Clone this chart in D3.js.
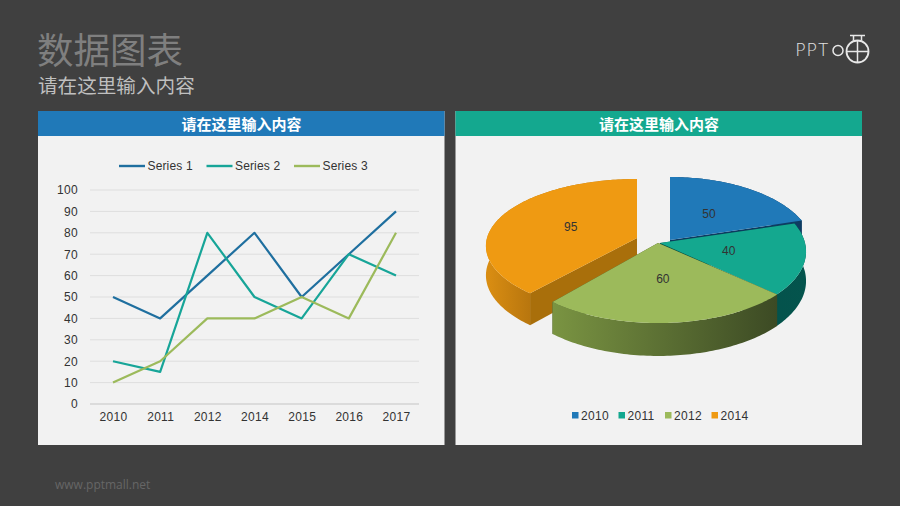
<!DOCTYPE html>
<html><head><meta charset="utf-8">
<script src="https://cdnjs.cloudflare.com/ajax/libs/d3/7.8.5/d3.min.js"></script>
<style>html,body{margin:0;padding:0;background:#404040}svg{display:block}</style></head>
<body><svg id="c" width="900" height="506"></svg>
<script>
const years=["2010","2011","2012","2014","2015","2016","2017"];
const series1=[50,40,60,80,50,70,90];
const series2=[20,15,80,50,40,70,60];
const series3=[10,20,40,40,50,40,80];
const seriesNames=["Series 1","Series 2","Series 3"];
const lineColors=["#1f6f9f","#17a598","#9cba5b"];
const yTicks=[0,10,20,30,40,50,60,70,80,90,100];
const pieLabels=["2010","2011","2012","2014"];
const pieValues=[50,40,60,95];
const pieColors=["#2079b8","#14a88f","#9cba5b","#ef9a12"];
const title="数据图表", subtitle="请在这里输入内容", header="请在这里输入内容", footer="www.pptmall.net";

const cjk="'Noto Sans CJK SC',sans-serif", latin="'Liberation Sans',Arial,sans-serif";
const svg=d3.select("#c");
const defs=svg.append("defs");
svg.append("rect").attr("width",900).attr("height",506).attr("fill","#404040");
svg.append("text").attr("x",37).attr("y",64).attr("font-family",cjk).attr("font-size",36.5).attr("fill","#7f7f7f").text(title);
svg.append("text").attr("x",38).attr("y",92.5).attr("font-family",cjk).attr("font-size",19.6).attr("fill","#bfbfbf").text(subtitle);
svg.append("text").attr("x",55).attr("y",489).attr("font-family","'Open Sans',sans-serif").attr("font-size",12).attr("fill","#666").text(footer);

// logo
const logo=svg.append("g").attr("fill","none").attr("stroke","#e8e8e8");
logo.append("text").attr("x",795.5).attr("y",56).attr("font-family","Lato,sans-serif").attr("font-weight",300).attr("font-size",17).attr("fill","#e0e0e0").attr("stroke","none").attr("letter-spacing",1.5).text("PPT");
logo.append("circle").attr("cx",838).attr("cy",50.5).attr("r",5).attr("stroke-width",1.5);
logo.append("circle").attr("cx",857.5).attr("cy",51.5).attr("r",11).attr("stroke-width",1.8);
logo.append("path").attr("stroke-width",1.5).attr("d","M846.5 51.5H868.5M857.5 40.5V62.5M850 35.5H865M853.5 35.5V40.5M861.5 35.5V40.5");

function panel(x,color){
  svg.append("rect").attr("x",x).attr("y",111).attr("width",406.5).attr("height",334).attr("fill","#f2f2f2");
  svg.append("rect").attr("x",x).attr("y",111).attr("width",406.5).attr("height",25).attr("fill",color);
  svg.append("text").attr("x",x+203.5).attr("y",129.5).attr("text-anchor","middle").attr("font-family",cjk).attr("font-weight",700).attr("font-size",15).attr("fill","#fff").text(header);
}
panel(38,"#2079b8");panel(455.5,"#14a88f");

// line chart
const x=d3.scalePoint().domain(years).range([113,396]);
const y=d3.scaleLinear().domain([0,100]).range([404,190]);
const left=svg.append("g").attr("transform","translate(90,0)");
left.selectAll("line.g").data(yTicks).join("line").attr("x1",0).attr("x2",329).attr("y1",d=>y(d)).attr("y2",d=>y(d)).attr("stroke",d=>d===0?"#c4c4c4":"#dedede").attr("stroke-width",1);
const ya=svg.append("g").attr("transform","translate(83,0)").call(d3.axisLeft(y).tickValues(yTicks).tickSize(0).tickPadding(5));
ya.select(".domain").remove();
const xa=svg.append("g").attr("transform","translate(0,404)").call(d3.axisBottom(x).tickSize(0).tickPadding(8));
xa.select(".domain").remove();
svg.selectAll(".tick text").attr("font-family",latin).attr("font-size",12).attr("letter-spacing",0.3).attr("fill","#333");
const line=d3.line().x((d,i)=>x(years[i])).y(d=>y(d));
[series1,series2,series3].forEach((s,i)=>{
  svg.append("path").attr("d",line(s)).attr("fill","none").attr("stroke",lineColors[i]).attr("stroke-width",2.2).attr("stroke-linejoin","round");
});
const legendX=d3.scalePoint().domain(seriesNames).range([119,294]);
seriesNames.forEach((n,i)=>{
  const lx=legendX(n);
  svg.append("line").attr("x1",lx).attr("x2",lx+26).attr("y1",166).attr("y2",166).attr("stroke",lineColors[i]).attr("stroke-width",2.4);
  svg.append("text").attr("x",lx+28.5).attr("y",170).attr("font-family",latin).attr("font-size",12).attr("letter-spacing",0.15).attr("fill","#333").text(n);
});

// 3D pie
const pie=d3.pie().sort(null).value(d=>d)(pieValues);
const persp=0.119, depth=29;
const sliceCentre=[[670,240],[660,243],[658,243],[637,238]];
const sliceRx=[142,145,148,150];
const sliceRy=[70.5,70.5,70.5,66];
function proj(i,a,r,h){
  const c=sliceCentre[i];
  const X=Math.sin(a)*r,Y=Math.cos(a)*r,s=1/(1+persp*Y);
  return [c[0]+sliceRx[i]*X*s,c[1]-sliceRy[i]*Y*s+(h?depth*s:0)];
}
function arcPts(i,a0,a1,h){
  const n=Math.ceil((a1-a0)/0.02);
  return d3.range(n+1).map(k=>proj(i,a0+(a1-a0)*k/n,1,h));
}
const gen=d3.line();
const wallGrad=[["#0e3c62","#0e3c62"],["#034e48","#04544d"],["#7a9442","#3c4a24"],["#d98d12","#b8760e"]];
const faceColor=["#0d3a60","#035048","#3f4f26","#a96f0b"];
const order=[3,0,1,2];
wallGrad.forEach((g,i)=>{
  const lg=defs.append("linearGradient").attr("id","w"+i).attr("gradientUnits","userSpaceOnUse");
  const span=i===2?[552,777]:i===3?[488,530]:[640,810];
  lg.attr("x1",span[0]).attr("x2",span[1]).attr("y1",0).attr("y2",0);
  lg.append("stop").attr("offset",0).attr("stop-color",g[0]);
  lg.append("stop").attr("offset",1).attr("stop-color",g[1]);
});
order.forEach(i=>{
  const p=pie[i];
  const g=svg.append("g");
  const a0=p.startAngle,a1=p.endAngle;
  [a0,a1].forEach(a=>{
    g.append("path").attr("fill",faceColor[i]).attr("d",gen([proj(i,a,0,false),proj(i,a,1,false),proj(i,a,1,true),proj(i,a,0,true)])+"Z");
  });
  g.append("path").attr("fill",`url(#w${i})`).attr("d",gen(arcPts(i,a0,a1,false).concat(arcPts(i,a0,a1,true).reverse()))+"Z");
  g.append("path").attr("fill",pieColors[i]).attr("d",gen([proj(i,0,0,false)].concat(arcPts(i,a0,a1,false)))+"Z");
});
order.forEach(i=>{
  const p=pie[i],pt=proj(i,(p.startAngle+p.endAngle)/2,0.48,false);
  svg.append("text").attr("x",pt[0]).attr("y",pt[1]+4).attr("text-anchor","middle").attr("font-family",latin).attr("font-size",12).attr("fill","#333").text(p.value);
});
const lgX=d3.scalePoint().domain(pieLabels).range([572,711.5]);
pieLabels.forEach((n,i)=>{
  svg.append("rect").attr("x",lgX(n)).attr("y",412).attr("width",6.5).attr("height",6.5).attr("fill",pieColors[i]);
  svg.append("text").attr("x",lgX(n)+9).attr("y",419.5).attr("font-family",latin).attr("font-size",12).attr("letter-spacing",0.3).attr("fill","#333").text(n);
});
</script></body></html>
